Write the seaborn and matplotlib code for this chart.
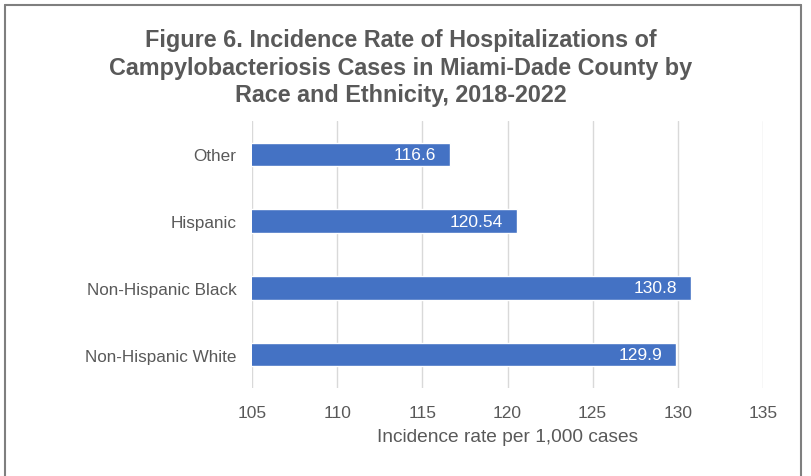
import matplotlib
matplotlib.use("Agg")
import matplotlib.pyplot as plt
import seaborn as sns
import pandas as pd
from matplotlib.lines import Line2D

categories = ["Other", "Hispanic", "Non-Hispanic Black", "Non-Hispanic White"]
values = [116.6, 120.54, 130.8, 129.9]
labels = ["116.6", "120.54", "130.8", "129.9"]
xticks = [105, 110, 115, 120, 125, 130, 135]

sns.set_theme(style="white")
plt.rcParams['font.family'] = ['Liberation Sans', 'DejaVu Sans']

df = pd.DataFrame({"cat": categories, "val": values})
gray = "#595959"

fig = plt.figure(figsize=(8.11, 4.77), dpi=100)
ax = fig.add_axes([252/811, 1-389/477, (763-252)/811, (389-122)/477])
sns.barplot(data=df, y="cat", x="val", orient="h", color="#4472C4",
            saturation=1, width=0.35, ax=ax, order=categories)
ax.set_xlim(105, 135)
ax.set_ylim(3.5, -0.5)
ax.set_xticks(xticks)
ax.set_xticklabels([str(t) for t in xticks])
ax.grid(axis="x", color="#D9D9D9", linewidth=1)
ax.set_axisbelow(True)
for s in ax.spines.values():
    s.set_visible(False)
ax.tick_params(axis="both", length=0, labelsize=12.5, colors=gray, pad=12)
ax.tick_params(axis="y", labelsize=12.3, pad=11)
ax.set_ylabel("")
ax.set_xlabel("Incidence rate per 1,000 cases", fontsize=13.8, color=gray, labelpad=6)
for c in ax.containers:
    texts = ax.bar_label(c, labels=labels, padding=-10, color="white", fontsize=12.5,
                         label_type="edge")
    for t in texts:
        t.set_ha("right")

fig.text(0.494, 1-68/477, "Figure 6. Incidence Rate of Hospitalizations of\n"
         "Campylobacteriosis Cases in Miami-Dade County by\n"
         "Race and Ethnicity, 2018-2022",
         ha="center", va="center", fontsize=16.8, fontweight="bold", color=gray,
         linespacing=1.26)

# frame border
fig.add_artist(Line2D([5/811, 5/811], [0, 1-6/477], color="#7F7F7F", lw=1.5, transform=fig.transFigure))
fig.add_artist(Line2D([5/811, 801/811], [1-6/477, 1-6/477], color="#7F7F7F", lw=1.5, transform=fig.transFigure))
fig.add_artist(Line2D([801/811, 801/811], [0, 1-6/477], color="#7F7F7F", lw=1.5, transform=fig.transFigure))

fig.savefig("out.png", dpi=100)
